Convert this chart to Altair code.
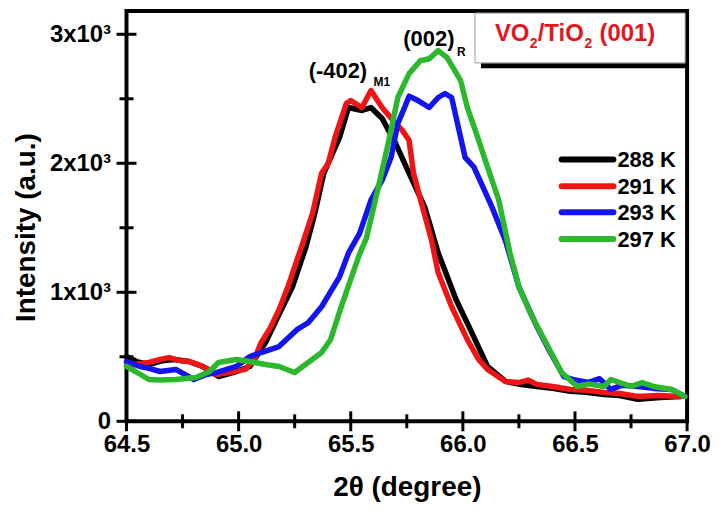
import altair as alt
import pandas as pd

# ---------------- data ----------------
x_288 = [64.50, 64.55, 64.60, 64.66, 64.71, 64.78, 64.84, 64.91, 64.99, 65.05, 65.12, 65.19, 65.24,
         65.30, 65.34, 65.38, 65.45, 65.49, 65.55, 65.59, 65.64, 65.70, 65.76, 65.83, 65.89, 65.97,
         66.04, 66.11, 66.19, 66.26, 66.33, 66.40, 66.48, 66.55, 66.63, 66.70, 66.78, 66.88, 66.97]
y_288 = [502, 460, 440, 470, 479, 463, 425, 347, 386, 425, 610, 865, 1042,
         1351, 1614, 1923, 2201, 2432, 2409, 2432, 2347, 2154, 1923, 1660, 1305, 942,
         687, 425, 309, 285, 270, 255, 232, 225, 208, 200, 170, 185, 193]

x_291 = [64.50, 64.55, 64.60, 64.65, 64.69, 64.74, 64.78, 64.82, 64.86, 64.90, 64.96, 65.03, 65.07,
         65.10, 65.14, 65.18, 65.22, 65.28, 65.33, 65.37, 65.40, 65.43, 65.48, 65.50, 65.55, 65.59,
         65.64, 65.69, 65.73, 65.76, 65.78, 65.82, 65.86, 65.89, 65.95, 66.02, 66.07, 66.11, 66.19,
         66.25, 66.29, 66.33, 66.40, 66.48, 66.55, 66.63, 66.70, 66.78, 66.87, 66.97]
y_291 = [430, 445, 456, 479, 494, 470, 463, 440, 410, 363, 378, 402, 480,
         610, 720, 865, 1042, 1351, 1614, 1923, 2000, 2201, 2463, 2486, 2432, 2564,
         2432, 2330, 2255, 2178, 1923, 1660, 1405, 1151, 888, 633, 480, 402, 309,
         300, 320, 286, 270, 247, 240, 224, 215, 193, 200, 193]

x_293 = [64.50, 64.56, 64.60, 64.65, 64.72, 64.80, 64.85, 64.90, 64.99, 65.05, 65.10, 65.18, 65.26,
         65.31, 65.37, 65.45, 65.49, 65.54, 65.59, 65.64, 65.68, 65.71, 65.74, 65.76, 65.80, 65.85,
         65.89, 65.92, 65.95, 65.97, 66.01, 66.05, 66.13, 66.19, 66.25, 66.33, 66.39, 66.45, 66.50,
         66.56, 66.61, 66.66, 66.71, 66.78, 66.85, 66.93, 66.99]
y_293 = [463, 425, 410, 386, 402, 324, 360, 378, 425, 502, 533, 579, 710,
         764, 888, 1120, 1305, 1459, 1714, 1869, 2046, 2309, 2432, 2520, 2486, 2432,
         2510, 2541, 2510, 2355, 2046, 1969, 1660, 1400, 1042, 734, 533, 347, 320,
         301, 330, 247, 280, 270, 255, 247, 193]

x_297 = [64.50, 64.54, 64.60, 64.65, 64.72, 64.81, 64.87, 64.91, 64.99, 65.05, 65.12, 65.18, 65.25,
         65.31, 65.37, 65.41, 65.46, 65.50, 65.54, 65.57, 65.62, 65.67, 65.71, 65.76, 65.81, 65.85,
         65.89, 65.93, 65.99, 66.02, 66.06, 66.10, 66.16, 66.21, 66.25, 66.30, 66.37, 66.44, 66.51,
         66.56, 66.63, 66.66, 66.75, 66.80, 66.85, 66.93, 66.99]
y_297 = [425, 386, 324, 320, 324, 340, 386, 456, 479, 463, 440, 425, 378,
         456, 533, 633, 900, 1100, 1300, 1420, 1792, 2178, 2510, 2695, 2795, 2810,
         2873, 2819, 2641, 2432, 2232, 2023, 1714, 1305, 1042, 842, 610, 378, 270,
         290, 270, 324, 270, 300, 270, 247, 193]

series_names = ["288 K", "291 K", "293 K", "297 K"]
series_colors = ["#000000", "#f01414", "#1414f0", "#2cb82c"]
series_x = [x_288, x_291, x_293, x_297]
series_y = [y_288, y_291, y_293, y_297]

x_major = [64.5, 65.0, 65.5, 66.0, 66.5, 67.0]
x_minor = [64.75, 65.25, 65.75, 66.25, 66.75]
y_major = [0, 1000, 2000, 3000]
y_minor = [500, 1500, 2500]

# ---------------- layout ----------------
W, H = 563, 412
FONT = "Liberation Sans"

xscale = alt.Scale(domain=[64.5, 67.0], nice=False, zero=False)
yscale = alt.Scale(domain=[0, 3180], nice=False, zero=False)

xaxis = alt.Axis(values=x_major, format=".1f", title="2θ (degree)", grid=False, domain=False,
                 ticks=False, labelPadding=11, labelFlush=False, labelFont=FONT,
                 labelFontWeight="bold", labelFontSize=24, labelColor="black",
                 titleFont=FONT, titleFontWeight="bold", titleFontSize=28, titleColor="black",
                 titleX=W / 2, titleY=75, titleAlign="center", titleBaseline="alphabetic")
yaxis = alt.Axis(values=y_major,
                 labelExpr="datum.value == 0 ? '0' : (datum.value/1000) + 'x10³'",
                 title="Intensity (a.u.)", grid=False, domain=False, ticks=False,
                 labelPadding=16, labelFont=FONT, labelFontWeight="bold", labelFontSize=24,
                 labelColor="black", titleFont=FONT, titleFontWeight="bold", titleFontSize=28,
                 titleColor="black", titleX=-92, titleY=217, titleAngle=-90,
                 titleAlign="center", titleBaseline="alphabetic")

layers = []
for name, color, xs, ys in zip(series_names, series_colors, series_x, series_y):
    df = pd.DataFrame({"x": xs, "y": ys})
    layers.append(
        alt.Chart(df).mark_line(color=color, strokeWidth=5.5, strokeJoin="round", strokeCap="round")
        .encode(x=alt.X("x:Q", scale=xscale, axis=xaxis), y=alt.Y("y:Q", scale=yscale, axis=yaxis))
    )

# inward ticks
def xticks(vals, length):
    return alt.Chart(pd.DataFrame({"x": vals})).mark_tick(
        color="black", thickness=3, size=length * 2, orient="vertical", opacity=1).encode(
        x=alt.X("x:Q", scale=xscale, axis=xaxis), y=alt.value(H))

def yticks(vals, length):
    return alt.Chart(pd.DataFrame({"y": vals})).mark_tick(
        color="black", thickness=3, size=length * 2, orient="horizontal", opacity=1).encode(
        y=alt.Y("y:Q", scale=yscale, axis=yaxis), x=alt.value(0))

layers += [xticks(x_major, 10), xticks(x_minor, 7), yticks(y_major, 10), yticks(y_minor, 7)]

dummy = pd.DataFrame({"a": [0]})

def txt(s, x, y, size, color="black", align="left", baseline="alphabetic"):
    return alt.Chart(dummy).mark_text(text=s, font=FONT, fontWeight="bold", fontSize=size,
                                      color=color, align=align, baseline=baseline).encode(
        x=alt.value(x), y=alt.value(y))

# legend (drawn manually)
leg_y = [149, 176, 202, 229]
for name, color, yy in zip(series_names, series_colors, leg_y):
    layers.append(alt.Chart(dummy).mark_rule(color=color, strokeWidth=6, strokeCap="round").encode(
        x=alt.value(437), x2=alt.value(489), y=alt.value(yy)))
    layers.append(txt(name, 493, yy + 1, 22, baseline="middle"))

# sample box with shadow
layers.append(alt.Chart(dummy).mark_rule(color="black", strokeWidth=5).encode(
    x=alt.value(356), x2=alt.value(563), y=alt.value(55)))
layers.append(alt.Chart(dummy).mark_rect(fill="white", stroke="#999999", strokeWidth=1).encode(
    x=alt.value(350), x2=alt.value(561), y=alt.value(2), y2=alt.value(52)))
RED = "#e8141c"
layers += [
    txt("VO", 370, 30, 24, RED),
    txt("2", 405, 37, 14, RED),
    txt("/TiO", 413, 30, 24, RED),
    txt("2", 460, 37, 14, RED),
    txt("(001)", 475, 30, 24, RED),
]

# peak annotations
layers += [
    txt("(002)", 278, 35, 22),
    txt("R", 332, 45, 12),
    txt("(-402)", 183, 67, 22),
    txt("M1", 248, 75, 12),
]

chart = alt.layer(*layers).properties(
    width=W, height=H,
    autosize=alt.AutoSizeParams(type="none"),
    padding={"left": 119, "top": 2, "right": 24, "bottom": 81},
).configure_view(stroke="black", strokeWidth=4)

chart.save("out.html", embed_options={"renderer": "svg", "actions": False})
